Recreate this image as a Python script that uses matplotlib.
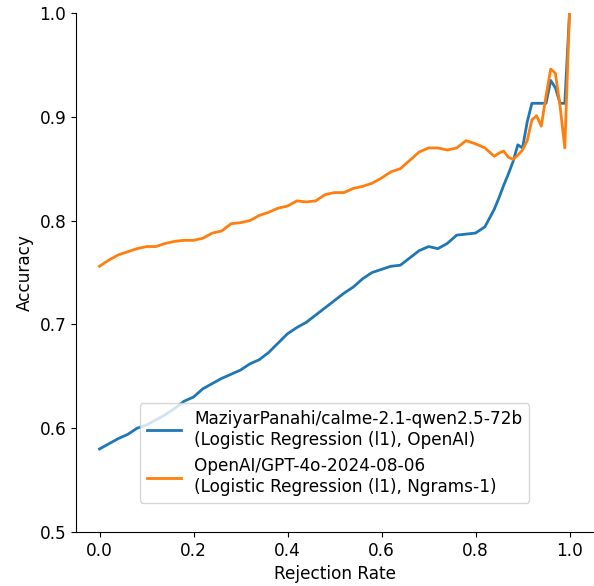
import numpy as np
import matplotlib
matplotlib.use("Agg")
import matplotlib.pyplot as plt

# rejection rates (coarse steps first, fine near the end)
rejection_rate = [0.00, 0.02, 0.04, 0.06, 0.08, 0.10, 0.12, 0.14, 0.16, 0.18,
                  0.20, 0.22, 0.24, 0.26, 0.28, 0.30, 0.32, 0.34, 0.36, 0.38,
                  0.40, 0.42, 0.44, 0.46, 0.48, 0.50, 0.52, 0.54, 0.56, 0.58,
                  0.60, 0.62, 0.64, 0.66, 0.68, 0.70, 0.72, 0.74, 0.76, 0.78,
                  0.80, 0.82, 0.84, 0.85, 0.86, 0.87, 0.88, 0.89, 0.90, 0.91,
                  0.92, 0.93, 0.94, 0.95, 0.96, 0.97, 0.98, 0.99, 1.00]

acc_qwen = [0.580, 0.585, 0.590, 0.594, 0.600, 0.603, 0.608, 0.613, 0.619, 0.626,
            0.630, 0.638, 0.643, 0.648, 0.652, 0.656, 0.662, 0.666, 0.673, 0.682,
            0.691, 0.697, 0.702, 0.709, 0.716, 0.723, 0.730, 0.736, 0.744, 0.750,
            0.753, 0.756, 0.757, 0.764, 0.771, 0.775, 0.773, 0.778, 0.786, 0.787,
            0.788, 0.794, 0.811, 0.822, 0.834, 0.845, 0.857, 0.873, 0.870, 0.895,
            0.913, 0.913, 0.913, 0.913, 0.935, 0.928, 0.913, 0.913, 1.000]

acc_gpt4o = [0.756, 0.762, 0.767, 0.770, 0.773, 0.775, 0.775, 0.778, 0.780, 0.781,
             0.781, 0.783, 0.788, 0.790, 0.797, 0.798, 0.800, 0.805, 0.808, 0.812,
             0.814, 0.819, 0.818, 0.819, 0.825, 0.827, 0.827, 0.831, 0.833, 0.836,
             0.841, 0.847, 0.850, 0.858, 0.866, 0.870, 0.870, 0.868, 0.870, 0.877,
             0.874, 0.870, 0.862, 0.865, 0.867, 0.861, 0.859, 0.863, 0.868, 0.877,
             0.897, 0.901, 0.891, 0.920, 0.946, 0.942, 0.910, 0.870, 1.000]

labels = ["MaziyarPanahi/calme-2.1-qwen2.5-72b\n(Logistic Regression (l1), OpenAI)",
          "OpenAI/GPT-4o-2024-08-06\n(Logistic Regression (l1), Ngrams-1)"]

fs = 12.2

fig = plt.figure(figsize=(5.94, 5.86), dpi=100)
ax = fig.add_axes([76 / 594, 54 / 586, 517 / 594, 519 / 586])

ax.plot(rejection_rate, acc_qwen, color="#1f77b4", linewidth=2, label=labels[0])
ax.plot(rejection_rate, acc_gpt4o, color="#ff7f0e", linewidth=2, label=labels[1])

ax.set_xlim(-0.05, 1.05)
ax.set_ylim(0.5, 1.0)
ax.set_xticks([0.0, 0.2, 0.4, 0.6, 0.8, 1.0])
ax.set_yticks([0.5, 0.6, 0.7, 0.8, 0.9, 1.0])
ax.tick_params(labelsize=fs)
ax.set_xlabel("Rejection Rate", fontsize=fs)
ax.set_ylabel("Accuracy", fontsize=fs)
ax.spines["top"].set_visible(False)
ax.spines["right"].set_visible(False)

ax.legend(loc="lower center", bbox_to_anchor=(0.5, 0.04), fontsize=fs)

fig.savefig("out.png", dpi=100)
